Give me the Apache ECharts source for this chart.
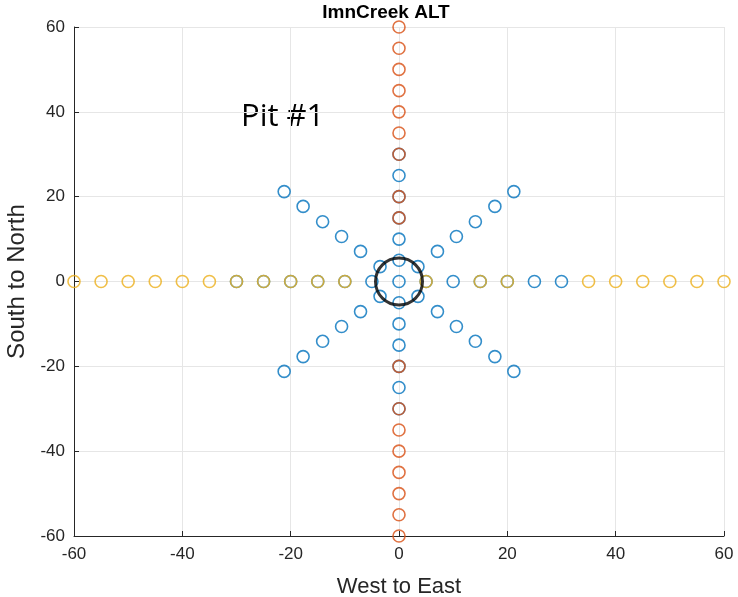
<!DOCTYPE html>
<html>
<head>
<meta charset="utf-8">
<script src="https://cdn.jsdelivr.net/npm/echarts@6/dist/echarts.min.js"></script>
<style>html,body{margin:0;padding:0;background:#fff;}#c{width:738px;height:597px;}</style>
</head>
<body>
<div id="c"></div>
<script>
// Blue: 8 radial lines (N, NE, E, SE, S, SW, W, NW) plus centre
var bluePoints = [
  [0,0],
  [0,5],[0,10],[0,15],[0,20],[0,25],[0,30],
  [0,-5],[0,-10],[0,-15],[0,-20],[0,-25],[0,-30],
  [5,0],[10,0],[15,0],[20,0],[25,0],[30,0],
  [-5,0],[-10,0],[-15,0],[-20,0],[-25,0],[-30,0],
  [3.5,3.5],[7.1,7.1],[10.6,10.6],[14.1,14.1],[17.7,17.7],[21.2,21.2],
  [-3.5,3.5],[-7.1,7.1],[-10.6,10.6],[-14.1,14.1],[-17.7,17.7],[-21.2,21.2],
  [3.5,-3.5],[7.1,-7.1],[10.6,-10.6],[14.1,-14.1],[17.7,-17.7],[21.2,-21.2],
  [-3.5,-3.5],[-7.1,-7.1],[-10.6,-10.6],[-14.1,-14.1],[-17.7,-17.7],[-21.2,-21.2]
];
// Orange: South-North transect (x = 0), positions visible as orange
var orangeY = [60,55,50,45,40,35,30,20,15,-20,-30,-35,-40,-45,-50,-55,-60];
// Yellow: West-East transect (y = 0), positions visible as yellow
var yellowX = [-60,-55,-50,-45,-40,-35,-30,-25,-20,-15,-10,5,15,20,35,40,45,50,55,60];
// Pit location
var pitPoint = [[0,0]];
var xTicks = [-60,-40,-20,0,20,40,60];
var yTicks = [-60,-40,-20,0,20,40,60];

var orangePoints = orangeY.map(function(y){return [0,y];});
var yellowPoints = yellowX.map(function(x){return [x,0];});

var chart = echarts.init(document.getElementById('c'));
var font = 'Liberation Sans, Arial, sans-serif';
function axisCommon(name, ticks, nameSize){
  return {
    type:'value', min:ticks[0], max:ticks[ticks.length-1], interval:20,
    name:name, nameLocation:'middle',
    nameTextStyle:{fontFamily:font, fontSize:nameSize, color:'#262626'},
    axisLine:{show:true, onZero:false, lineStyle:{color:'#262626', width:1}},
    axisTick:{show:true, inside:true, length:5, lineStyle:{color:'#262626'}},
    axisLabel:{fontFamily:font, fontSize:17, color:'#262626'},
    splitLine:{show:true, lineStyle:{color:'#e6e6e6', width:1}}
  };
}
var xa = axisCommon('West to East', xTicks, 22); xa.nameGap = 40; xa.axisLabel.margin = 10;
var ya = axisCommon('South to North', yTicks, 24); ya.nameGap = 43; ya.axisLabel.margin = 9;

function mk(color){
  return {color:'rgba(0,0,0,0)', borderColor:color, borderWidth:1.6};
}
chart.setOption({
  animation:false,
  title:{text:'ImnCreek ALT', left:381, top:-2, textAlign:'center',
    textStyle:{fontFamily:font, fontSize:19, fontWeight:'bold', color:'#000'}},
  grid:{left:74, right:14, top:27, bottom:61, containLabel:false, outerBoundsMode:'none'},
  xAxis:xa, yAxis:ya,
  graphic:[{type:'text', left:241, top:102, style:{text:'Pit #1', font:'31px "Open Sans", Liberation Sans, sans-serif', fill:'#000'}}],
  series:[
    {type:'scatter', data:bluePoints, symbol:'circle', symbolSize:12, itemStyle:mk('#0072BD'), z:2},
    {type:'scatter', data:orangePoints, symbol:'circle', symbolSize:12, itemStyle:Object.assign(mk('#D95319'),{opacity:0.82}), z:3},
    {type:'scatter', data:yellowPoints, symbol:'circle', symbolSize:12, itemStyle:Object.assign(mk('#EDB120'),{opacity:0.82}), z:3},
    {type:'scatter', data:pitPoint, symbol:'circle', symbolSize:47, itemStyle:{color:'rgba(0,0,0,0)', borderColor:'#000', borderWidth:3}, z:4}
  ]
});
</script>
</body>
</html>
